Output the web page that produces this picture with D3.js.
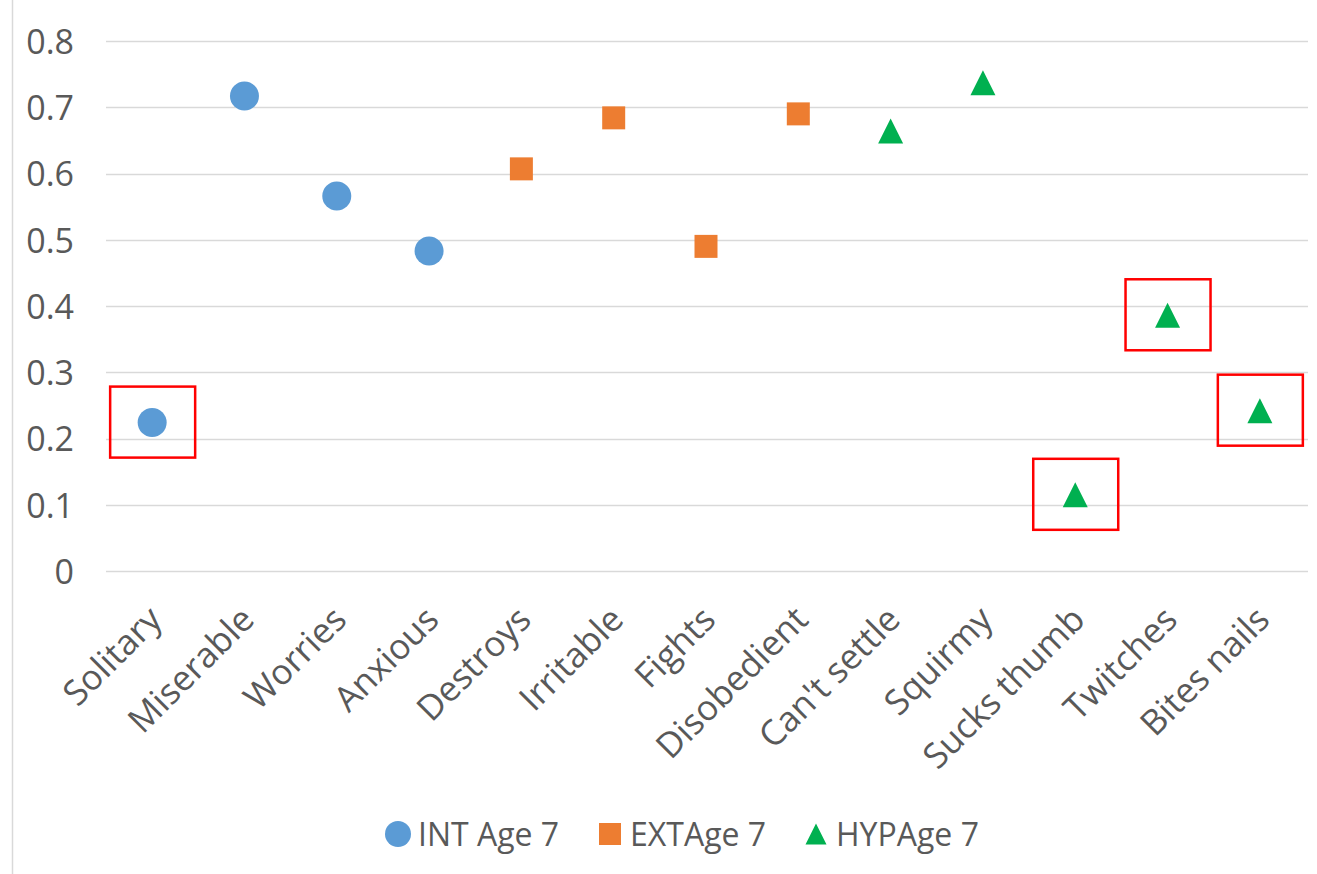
<!DOCTYPE html>
<html><head><meta charset="utf-8">
<script src="https://cdn.jsdelivr.net/npm/d3@7"></script>
<style>body{margin:0;background:#fff}svg{display:block}text{font-family:"Open Sans",sans-serif;fill:#595959}</style>
</head><body>
<script>
const categories = ["Solitary","Miserable","Worries","Anxious","Destroys","Irritable","Fights","Disobedient","Can't settle","Squirmy","Sucks thumb","Twitches","Bites nails"];
const intCats = ["Solitary","Miserable","Worries","Anxious"];
const intValues = [0.224,0.717,0.566,0.483];
const extCats = ["Destroys","Irritable","Fights","Disobedient"];
const extValues = [0.607,0.684,0.490,0.690];
const hypCats = ["Can't settle","Squirmy","Sucks thumb","Twitches","Bites nails"];
const hypValues = [0.664,0.737,0.115,0.386,0.242];
const yTicks = [0,0.1,0.2,0.3,0.4,0.5,0.6,0.7,0.8];
const highlighted = ["Solitary","Sucks thumb","Twitches","Bites nails"];
const seriesNames = ["INT Age 7","EXTAge 7","HYPAge 7"];
const colors = ["#5B9BD5","#ED7D31","#00B050"];

const W=1317,H=874;
const svg=d3.select("body").append("svg").attr("width",W).attr("height",H);
svg.append("line").attr("x1",12.5).attr("x2",12.5).attr("y1",0).attr("y2",H).attr("stroke","#D9D9D9").attr("stroke-width",1.5);

const x=d3.scalePoint().domain(categories).range([106,1306]).padding(0.5);
const y=d3.scaleLinear().domain([0,0.8]).range([571,41]);

// gridlines
svg.append("g").selectAll("line").data(yTicks).join("line")
 .attr("x1",106).attr("x2",1308).attr("y1",d=>Math.round(y(d))+0.5).attr("y2",d=>Math.round(y(d))+0.5)
 .attr("stroke","#D9D9D9").attr("stroke-width",1.5);

// y axis labels
const yAxis=d3.axisLeft(y).tickValues(yTicks).tickFormat(d=>d===0?"0":d3.format(".1f")(d)).tickSize(0).tickPadding(0);
const ya=svg.append("g").attr("transform","translate(74,0)").call(yAxis);
ya.select(".domain").remove();
ya.selectAll("text").attr("font-size",34).attr("font-family","Open Sans").attr("fill","#595959").attr("dy","0.36em");

// x axis labels
const xa=svg.append("g");
xa.selectAll("text").data(categories).join("text")
 .attr("transform",d=>`translate(${x(d)+3},${613}) rotate(-45)`)
 .attr("text-anchor","end").attr("dy","0.35em").attr("font-size",35).text(d=>d);

// highlight boxes
function valueOf(c){let i=hypCats.indexOf(c);if(i>=0)return hypValues[i];i=intCats.indexOf(c);if(i>=0)return intValues[i];return extValues[extCats.indexOf(c)];}
svg.append("g").selectAll("rect").data(highlighted).join("rect")
 .attr("x",d=>x(d)-42).attr("y",d=>y(valueOf(d))-36)
 .attr("width",85).attr("height",71).attr("fill","none").attr("stroke","#FF0000").attr("stroke-width",2.5);

// markers
function marker(k,s){
  if(k===0) return d3.symbol(d3.symbolCircle,Math.PI*(s/2)*(s/2))();
  if(k===1) return `M${-s/2},${-s/2}h${s}v${s}h${-s}Z`;
  return `M0,${-s/2}L${s/2},${s/2}L${-s/2},${s/2}Z`;
}
const msz=[29,23,25];
function drawSeries(cats,vals,k){
  svg.append("g").selectAll("path").data(cats.map((c,i)=>({c,v:vals[i]}))).join("path")
   .attr("d",marker(k,msz[k]))
   .attr("transform",d=>`translate(${x(d.c)},${y(d.v)})`)
   .attr("fill",colors[k]);
}
drawSeries(intCats,intValues,0);
drawSeries(extCats,extValues,1);
drawSeries(hypCats,hypValues,2);

// legend
const legX=[398,610,816];
const legS=[26,22,21];
const lg=svg.append("g");
seriesNames.forEach((n,k)=>{
  lg.append("path").attr("d",marker(k,legS[k])).attr("transform",`translate(${legX[k]},834)`).attr("fill",colors[k]);
  lg.append("text").attr("x",legX[k]+20).attr("y",834).attr("dy","0.36em").attr("font-size",32).text(n);
});
</script>
</body></html>
